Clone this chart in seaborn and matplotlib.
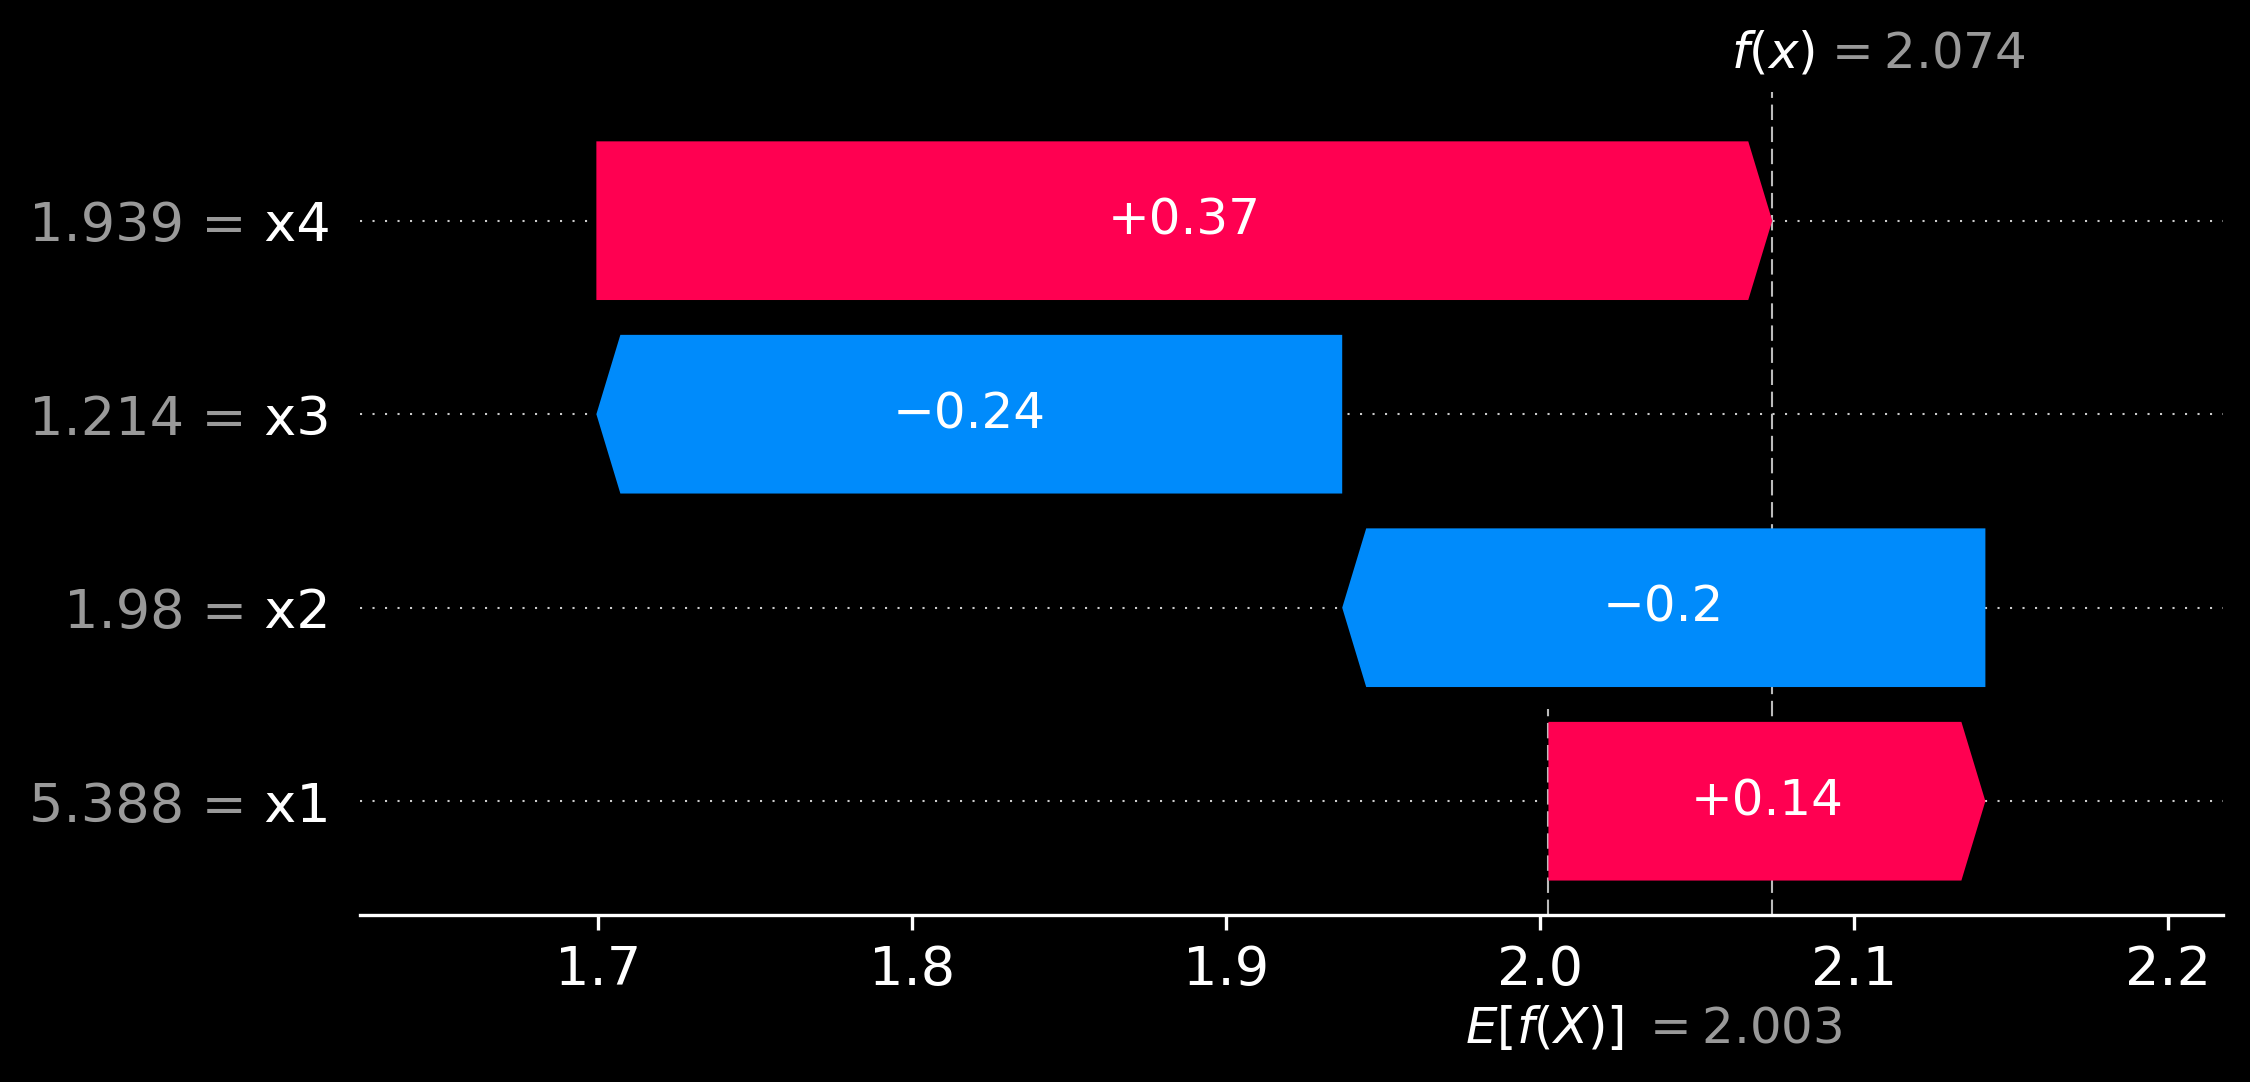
import re
import numpy as np
import matplotlib
matplotlib.use("Agg")
import matplotlib.pyplot as plt
import matplotlib.transforms as mtransforms
from matplotlib.patches import FancyArrow
import seaborn as sns

# ---------------- data ----------------
feature_names = ["x1", "x2", "x3", "x4"]
feature_values = [5.388, 1.98, 1.214, 1.939]
shap_values = [0.1392, -0.2049, -0.2376, 0.3746]
base_value = 2.0027
xtick_values = [1.7, 1.8, 1.9, 2.0, 2.1, 2.2]

RED = "#ff0051"
BLUE = "#008bfb"


def format_value(v, fmt):
    s = fmt % v
    s = re.sub(r"\.?0+$", "", s)
    if s[0] == "-":
        s = "\u2212" + s[1:]
    return s


# ---------------- style ----------------
sns.set_theme(style="dark", rc={
    "figure.facecolor": "black",
    "axes.facecolor": "black",
    "savefig.facecolor": "black",
    "axes.edgecolor": "white",
    "axes.linewidth": 0.8,
    "text.color": "white",
    "xtick.color": "white",
    "ytick.color": "white",
    "xtick.bottom": True,
    "xtick.major.size": 3.5,
    "xtick.major.width": 0.8,
    "axes.grid": False,
})
plt.rcParams["font.family"] = ["DejaVu Sans"]
plt.rcParams["mathtext.fontset"] = "dejavusans"

W, H, DPI = 2250, 1082, 300
fig = plt.figure(figsize=(W / DPI, H / DPI), dpi=DPI)
left, right, bottom, top = 360 / W, 2222.7 / W, 1 - 915 / H, 1 - 92 / H
ax = fig.add_axes([left, bottom, right - left, top - bottom])

xmin, xmax = 1.6241, 2.2175
ax.set_xlim(xmin, xmax)
ax.set_ylim(-0.588, 3.665)

n = len(feature_names)
order = np.argsort(np.abs(shap_values))  # smallest at bottom
fx = base_value + float(np.sum(shap_values))

# head length of 0.08 inch in data units
ax_w_px = (right - left) * W
hl = 0.08 * DPI / ax_w_px * (xmax - xmin)
bar_w = 0.82

# row lines
for y in range(n):
    ax.axhline(y, color="#cccccc", lw=0.5, dashes=(1, 5), zorder=-1)

# vertical reference lines
ax.axvline(base_value, 0, 1 / n, color="#bbbbbb", lw=0.5, dashes=(7.4, 3.2), zorder=-1)
ax.axvline(fx, 0, 1, color="#bbbbbb", lw=0.5, dashes=(7.4, 3.2), zorder=-1)

start = base_value
value_labels = []
name_labels = []
for y, idx in enumerate(order):
    v = shap_values[idx]
    color = RED if v > 0 else BLUE
    arr = FancyArrow(start, y, v, 0, width=bar_w, head_width=bar_w,
                     head_length=min(hl, abs(v)), length_includes_head=True,
                     color=color, lw=0, zorder=2)
    ax.add_patch(arr)
    ax.text(start + v / 2, y, format_value(v, "%+0.02f"), ha="center", va="center",
            color="white", fontsize=12, zorder=3)
    start += v
    value_labels.append(format_value(feature_values[idx], "%0.03f") + " =")
    name_labels.append(" " + feature_names[idx])

PAD = 7.0
ax.set_yticks(list(range(n)), labels=[""] * n)
ax.tick_params(axis="y", length=0, pad=PAD)


def ytr(dx_pt):
    return ax.get_yaxis_transform() + mtransforms.ScaledTranslation(-dx_pt / 72, 0, fig.dpi_scale_trans)


name_texts = []
for y, lab in enumerate(name_labels):
    t = ax.text(0, y, lab, transform=ytr(PAD), ha="right", va="center_baseline",
                fontsize=13, color="white", clip_on=False)
    name_texts.append(t)

fig.canvas.draw()
renderer = fig.canvas.get_renderer()
for y, (lab, t) in enumerate(zip(value_labels, name_texts)):
    w_pt = t.get_window_extent(renderer).width * 72 / DPI
    ax.text(0, y, lab, transform=ytr(PAD + w_pt), ha="right", va="center_baseline",
            fontsize=13, color="#999999", clip_on=False)

ax.set_xticks(xtick_values, labels=[f"{v:.1f}" for v in xtick_values], fontsize=13)
sns.despine(ax=ax, left=True, top=True, right=True)

# f(x) and E[f(X)] annotations
trans = mtransforms.blended_transform_factory(ax.transData, ax.transAxes)


def off(dx, dy):
    return trans + mtransforms.ScaledTranslation(dx / 72, dy / 72, fig.dpi_scale_trans)


ax.text(fx, 1, "$f(x)$", transform=off(-10, 5.8), ha="left", va="baseline",
        fontsize=12, color="white", clip_on=False)
ax.text(fx, 1, "$ = " + format_value(fx, "%0.03f") + "$", transform=off(12, 5.8),
        ha="left", va="baseline", fontsize=12, color="#999999", clip_on=False)
ax.text(base_value, 0, "$E[f(X)]$", transform=off(-20, -30.7), ha="left", va="baseline",
        fontsize=12, color="white", clip_on=False)
ax.text(base_value, 0, "$ = " + format_value(base_value, "%0.03f") + "$", transform=off(22, -30.7),
        ha="left", va="baseline", fontsize=12, color="#999999", clip_on=False)

fig.savefig("out.png", dpi=DPI, facecolor="black")
